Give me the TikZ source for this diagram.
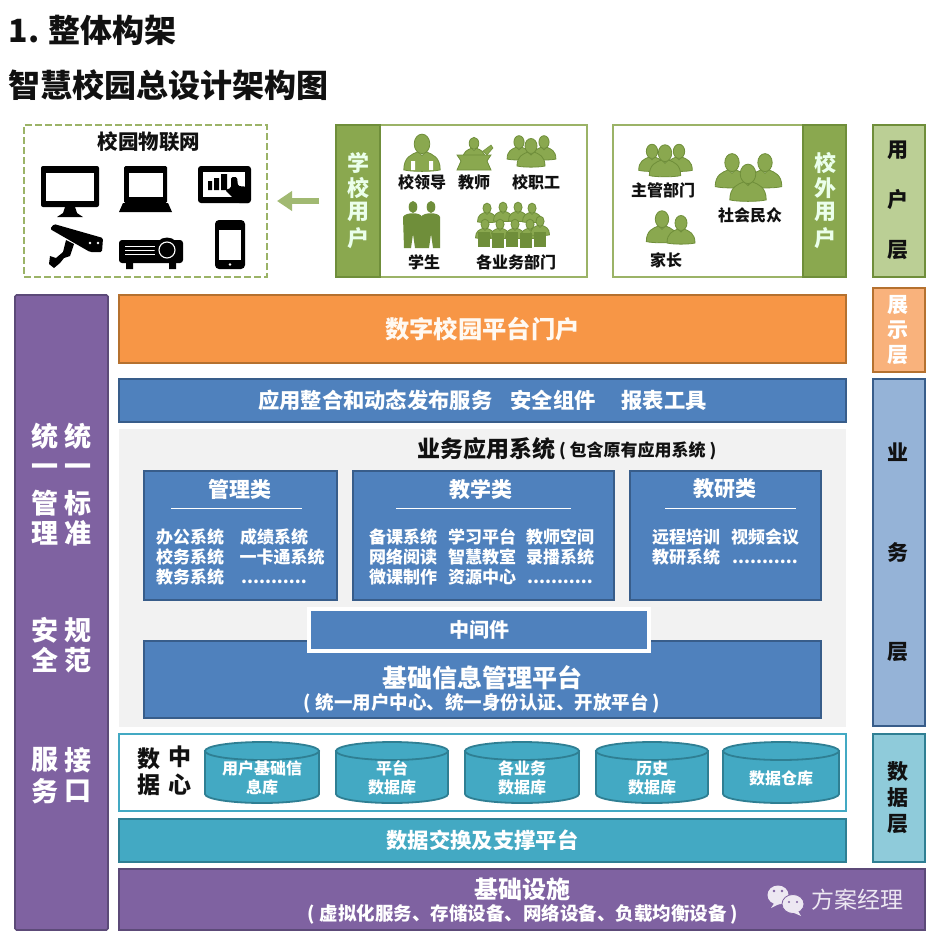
\documentclass[tikz,border=0pt]{standalone}
\usepackage{fontspec}
\setmainfont{Noto Sans CJK SC}
\usetikzlibrary{arrows.meta}
\definecolor{grn}{HTML}{8AA84F}
\definecolor{grnl}{HTML}{9BB367}
\definecolor{grnd}{HTML}{6F8E3A}
\definecolor{grnp}{HTML}{BBCF95}
\definecolor{blu}{HTML}{4F81BD}
\definecolor{blud}{HTML}{385D8A}
\definecolor{blul}{HTML}{95B3D7}
\definecolor{org}{HTML}{F79646}
\definecolor{orgl}{HTML}{F9B27C}
\definecolor{orgd}{HTML}{B5712F}
\definecolor{tea}{HTML}{43A9C3}
\definecolor{tead}{HTML}{2F7F93}
\definecolor{teal2}{HTML}{8FCBDA}
\definecolor{pur}{HTML}{7F62A1}
\definecolor{purd}{HTML}{5C4A78}
\definecolor{gry}{HTML}{F2F2F2}
\definecolor{ink}{HTML}{111111}
\newcommand{\bx}[7]{%
  \pgfmathsetmacro{\bw}{#4-#2}\pgfmathsetmacro{\bh}{#5-#3}%
  \node[anchor=north west,inner sep=0pt,outer sep=0pt,minimum width=\bw pt,minimum height=\bh pt,#6] (#1) at (#2,#3) {#7};}
\newcommand{\lab}[7][]{%
  \node[inner sep=0pt,outer sep=0pt,text=#6,font=\fontsize{#5}{#5}\selectfont,#1] (#2) at (#3,#4) {#7};}
\newcommand{\pers}[3]{%
  \begin{scope}[shift={(#1,#2)},scale=#3]
    \fill[grn,draw=grnd,line width=.8pt] (-14,13) .. controls (-14,3) and (-8,1) .. (-3,-1) -- (0,2) -- (3,-1) .. controls (8,1) and (14,3) .. (14,13) .. controls (8,14.5) and (-8,14.5) .. (-14,13) -- cycle;
    \fill[grn,draw=grnd,line width=.8pt] (0,-7) ellipse (6 and 7.5);
  \end{scope}}
\tikzset{
  bluebox/.style={fill=blu,draw=blud,line width=1.2pt},
  sidebox/.style={line width=1.6pt},
  cyl/.style={fill=tea,draw=tead,line width=1.8pt},
}
\begin{document}
\begin{tikzpicture}[x=1pt,y=-1pt]
\useasboundingbox (0,0) rectangle (933,942);
\fill[white] (0,0) rectangle (933,942);
% titles
\lab[anchor=west]{t1}{9}{30}{32}{ink}{\bfseries 1.\hspace{-1pt} 整体构架}
\lab[anchor=west]{t2}{9}{85}{32}{ink}{\bfseries 智慧校园总设计架构图}
% IoT box
\bx{iot}{24}{125}{267}{277}{draw=grnl,line width=2.2pt,dash pattern=on 7pt off 3pt}{}
\lab{iott}{149}{142}{20.5}{ink}{\bfseries 校园物联网}
% monitor
\fill[black,rounded corners=2pt] (41,166) rectangle (99,207);
\fill[white] (46,173) rectangle (94,201);
\fill[black] (65,207) -- (75,207) -- (77,213) -- (83,217) -- (57,217) -- (63,213) -- cycle;
% laptop
\fill[black,rounded corners=1.5pt] (124,166) rectangle (167,203);
\fill[white] (129,173) rectangle (163,197);
\fill[black] (123,203) -- (168,203) -- (172,212) -- (119,212) -- cycle;
% tablet
\fill[black,rounded corners=3pt] (198,166) rectangle (251,203);
\fill[white] (203,172) rectangle (245,197);
\fill[black] (208,181) rectangle (212,190) (214,178) rectangle (219,190) (221,174) rectangle (227,190);
\fill[black,rounded corners=1.5pt] (231,177) -- (237,177) -- (238,186) -- (250,187) -- (250,203) -- (238,203) -- (225,190) -- (231,188) -- cycle;
% camera
\fill[black,rounded corners=1.5pt] (50,229) -- (54,224) -- (103,238) -- (102,252) -- (90,252) -- cycle;
\fill[black] (66,240) -- (74,244) -- (70,256) -- (64,258) -- (60,263) -- (54,268) -- (49,264) -- (50,256) -- (56,258) -- (63,252) -- cycle;
\fill[white] (90,243) circle (1.3) (98,243) circle (1.3);
% projector
\fill[black,rounded corners=3pt] (119,240) rectangle (183,263);
\fill[black] (126,262) rectangle (133,269) (169,262) rectangle (176,269);
\draw[white,line width=.6pt] (125,246) -- (155,246) (125,250) -- (155,250) (125,254) -- (155,254);
\fill[black] (167,250) circle (12.5);
\draw[white,line width=1.1pt] (167,250) circle (8);
% phone
\fill[black,rounded corners=4pt] (215,220) rectangle (245,269);
\fill[white] (219,230) rectangle (241,260);
\fill[white] (230,264.5) circle (1.4);
% arrow
\coordinate (arrS) at (319,201);
\coordinate (arrE) at (277,201);
\draw[-{Triangle[length=15pt,width=19pt]},grn!80!white,line width=5.5pt] (arrS) -- (arrE);
% school users
\bx{sch}{336}{125}{587}{277}{draw=grnl,fill=white,line width=2.4pt}{}
\bx{schb}{336}{125}{380}{277}{fill=grn,draw=grnd,line width=1.6pt}{}
\foreach \c/\y/\n in {学/163/a,校/188/b,用/212/c,户/238/d}{\lab{sch\n}{358}{\y}{22}{white!92!green}{\bfseries\c}}
% school icons
\pers{422}{153}{1.3}
\fill[white] (411,161) rectangle (415,170) (429,161) rectangle (433,170);
\pers{474}{149}{.8}
\fill[grn,draw=grnd,line width=.8pt] (457,155) -- (491,155) -- (487,161) -- (491,170) -- (457,170) -- (461,161) -- cycle;
\fill[grn,draw=grnd,line width=.5pt] (483,151) -- (491,145) -- (493,148) -- (487,155) -- cycle;
\pers{519}{148}{.85}\pers{544}{148}{.85}\pers{531}{153}{1}
\lab{l1}{422}{182}{16}{ink}{\bfseries 校领导}
\lab{l2}{474}{182}{16}{ink}{\bfseries 教师}
\lab{l3}{536}{182}{16}{ink}{\bfseries 校职工}
\begin{scope}[shift={(413,212)}]
 \fill[grnd] (-9,36) -- (-10,5) .. controls (-8,0) and (8,0) .. (9,5) -- (9,36) -- (2,36) -- (0,22) -- (-2,36) -- cycle;
 \fill[grnd] (0,-5) ellipse (4.3 and 6);
\end{scope}
\begin{scope}[shift={(431,212)}]
 \fill[grnd] (-9,36) -- (-10,5) .. controls (-8,0) and (8,0) .. (9,5) -- (9,36) -- (2,36) -- (0,22) -- (-2,36) -- cycle;
 \fill[grnd] (0,-5) ellipse (4.3 and 6);
\end{scope}
\foreach \x/\y in {487/213,503/212,518/212,532/213,485/229,500/229,515/229,530/229,540/226}{\pers{\x}{\y}{.68}}
\foreach \x/\y in {484/240,498/241,512/240,526/241,540/240}{\fill[grnd] (\x-6,\y-8) rectangle (\x+6,\y+7);}
\lab{l4}{424}{262}{16}{ink}{\bfseries 学生}
\lab{l5}{516}{262}{16}{ink}{\bfseries 各业务部门}
% outside users
\bx{ext}{613}{125}{846}{277}{draw=grnl,fill=white,line width=2.4pt}{}
\bx{extb}{803}{125}{846}{277}{fill=grn,draw=grnd,line width=1.6pt}{}
\foreach \c/\y/\n in {校/163/a,外/188/b,用/212/c,户/238/d}{\lab{ext\n}{825}{\y}{22}{white!92!green}{\bfseries\c}}
\pers{652}{158}{.95}\pers{679}{158}{.95}\pers{665}{161}{1.12}
\lab{l6}{663}{190}{16}{ink}{\bfseries 主管部门}
\pers{732}{171}{1.2}\pers{765}{171}{1.2}\pers{748}{183}{1.3}
\lab{l7}{750}{215}{16}{ink}{\bfseries 社会民众}
\pers{662}{227}{1.12}\pers{681}{230}{1}
\lab{l8}{666}{260}{16}{ink}{\bfseries 家长}
% right layer column
\bx{ruser}{873}{125}{925}{277}{sidebox,fill=grnp,draw=grnd}{}
\foreach \c/\y/\n in {用/150/a,户/200/b,层/250/c}{\lab{ruser\n}{898}{\y}{21}{ink}{\bfseries\c}}
\bx{rshow}{873}{288}{925}{372}{sidebox,fill=orgl,draw=orgd}{}
\foreach \c/\y/\n in {展/305/a,示/330/b,层/355/c}{\lab{rshow\n}{898}{\y}{21}{white}{\bfseries\c}}
\bx{rbiz}{873}{379}{925}{726}{sidebox,fill=blul,draw=blud}{}
\foreach \c/\y/\n in {业/452/a,务/552/b,层/652/c}{\lab{rbiz\n}{898}{\y}{21}{ink}{\bfseries\c}}
\bx{rdata}{873}{734}{925}{862}{sidebox,fill=teal2,draw=tead}{}
\foreach \c/\y/\n in {数/772/a,据/798/b,层/824/c}{\lab{rdata\n}{898}{\y}{21}{ink}{\bfseries\c}}
% left purple column
\bx{left}{15}{295}{108}{930}{fill=pur,draw=purd,line width=1.6pt,rounded corners=1.5pt}{}
\foreach \a/\b/\y/\n in {统/统/436/a,一/一/470/b,管/标/503/c,理/准/533/d,安/规/630/e,全/范/660/f,服/接/760/g,务/口/791/h}{
  \lab{lefta\n}{45}{\y}{27}{white}{\bfseries\a}
  \lab{leftb\n}{78}{\y}{27}{white}{\bfseries\b}}
% portal
\bx{portal}{119}{295}{846}{363}{fill=org,draw=orgd,line width=1.4pt}{\fontsize{24.3}{24.3}\selectfont\bfseries\color{white!95!orange} 数字校园平台门户}
\bx{bar}{119}{379}{846}{422}{bluebox}{\fontsize{21.3}{21.3}\selectfont\bfseries\color{white} 应用整合和动态发布服务\hspace{18pt}安全组件\hspace{26pt}报表工具}
% business
\bx{biz}{119}{429}{846}{727}{fill=gry}{}
\lab[anchor=west]{bizt}{417}{449}{23}{ink}{\bfseries 业务应用系统}
\lab[anchor=west]{bizs}{559}{451}{17}{ink}{\bfseries ( 包含原有应用系统 )}
\bx{m1}{144}{471}{337}{600}{bluebox}{}
\bx{m2}{353}{471}{614}{600}{bluebox}{}
\bx{m3}{630}{471}{821}{600}{bluebox}{}
\lab{m1t}{240}{489}{21}{white}{\bfseries 管理类}
\lab{m2t}{481}{489}{21}{white}{\bfseries 教学类}
\lab{m3t}{725}{489}{21}{white}{\bfseries 教研类}
\coordinate (r1a) at (171,508);\coordinate (r1b) at (302,508);
\coordinate (r2a) at (396,508);\coordinate (r2b) at (571,508);
\coordinate (r3a) at (665,508);\coordinate (r3b) at (796,508);
\draw[white,line width=.8pt] (r1a) -- (r1b) (r2a) -- (r2b) (r3a) -- (r3b);
\newcommand{\dotsline}{...........}
\foreach \x/\y/\t/\n in {190/537/办公系统/a,274/537/成绩系统/b,190/557/校务系统/c,282/557/一卡通系统/d,190/577/教务系统/e,
 403/537/备课系统/g,482/537/学习平台/h,560/537/教师空间/i,403/557/网络阅读/j,482/557/智慧教室/k,560/557/录播系统/l,403/577/微课制作/m,482/577/资源中心/n,
 686/537/远程培训/p,765/537/视频会议/q,686/557/教研系统/r}{
  \lab{it\n}{\x}{\y}{17}{white}{\bfseries\t}}
\foreach \x/\y/\n in {274/582/f,560/582/o,765/562/s}{\lab{it\n}{\x}{\y}{17}{white}{\bfseries\dotsline}}
\bx{plat}{144}{641}{821}{718}{bluebox}{}
\lab{platt}{482}{678}{25}{white}{\bfseries 基础信息管理平台}
\lab{plats}{482}{703}{18.5}{white}{\bfseries ( 统一用户中心、统一身份认证、开放平台 )}
\bx{mid}{309}{609}{649}{651}{fill=blu,draw=white,line width=3.5pt}{\fontsize{20}{20}\selectfont\bfseries\color{white} 中间件}
% data centre
\bx{dc}{119}{734}{846}{811}{fill=white,draw=tea,line width=1.8pt}{}
\lab{dc1}{149}{759}{23}{ink}{\bfseries 数}
\lab{dc2}{149}{785}{23}{ink}{\bfseries 据}
\lab{dc3}{180}{757}{23}{ink}{\bfseries 中}
\lab{dc4}{180}{785}{23}{ink}{\bfseries 心}
\foreach \xa/\xb/\n in {205/319/a,336/448/b,465/579/c,596/708/d,723/839/e}{
  \pgfmathsetmacro{\cx}{(\xa+\xb)/2}\pgfmathsetmacro{\rx}{(\xb-\xa)/2}
  \draw[cyl] (\xa,751) -- (\xa,794) arc[start angle=180,end angle=0,x radius=\rx,y radius=9] -- (\xb,751) -- cycle;
  \draw[cyl] (\cx,751) ellipse (\rx pt and 9pt);
}
\foreach \x/\y/\t/\n in {262/768/用户基础信/a,262/787/息库/b,392/768/平台/c,392/787/数据库/d,522/768/各业务/e,522/787/数据库/f,652/768/历史/g,652/787/数据库/h,781/778/数据仓库/i}{
  \lab{db\n}{\x}{\y}{16}{white}{\bfseries\t}}
% exchange
\bx{xch}{119}{819}{846}{862}{fill=tea,draw=tead,line width=1.4pt}{\fontsize{21.3}{21.3}\selectfont\bfseries\color{white} 数据交换及支撑平台}
% infrastructure
\bx{inf}{119}{869}{925}{930}{fill=pur,draw=purd,line width=1.6pt}{}
\lab{inft}{522}{889}{24}{white}{\bfseries 基础设施}
\lab{infs}{523}{914}{18.5}{white}{\bfseries ( 虚拟化服务、存储设备、网络设备、负载均衡设备 )}
% watermark
\definecolor{wmk}{HTML}{EDE8F2}
\fill[wmk] (778,895) ellipse (10.5 and 9.5);
\fill[wmk] (775,902) -- (771,908) -- (781,903) -- cycle;
\fill[pur] (774,891) circle (1.4) (782,891) circle (1.4);
\fill[wmk,draw=pur,line width=.8pt] (793,904) ellipse (11 and 9.5);
\fill[wmk] (798,911) -- (801,916) -- (792,912) -- cycle;
\fill[pur] (789,902) circle (1.2) (797,902) circle (1.2);
\lab[anchor=west]{wm}{811}{900}{23}{wmk}{方案经理}
\end{tikzpicture}
\end{document}
